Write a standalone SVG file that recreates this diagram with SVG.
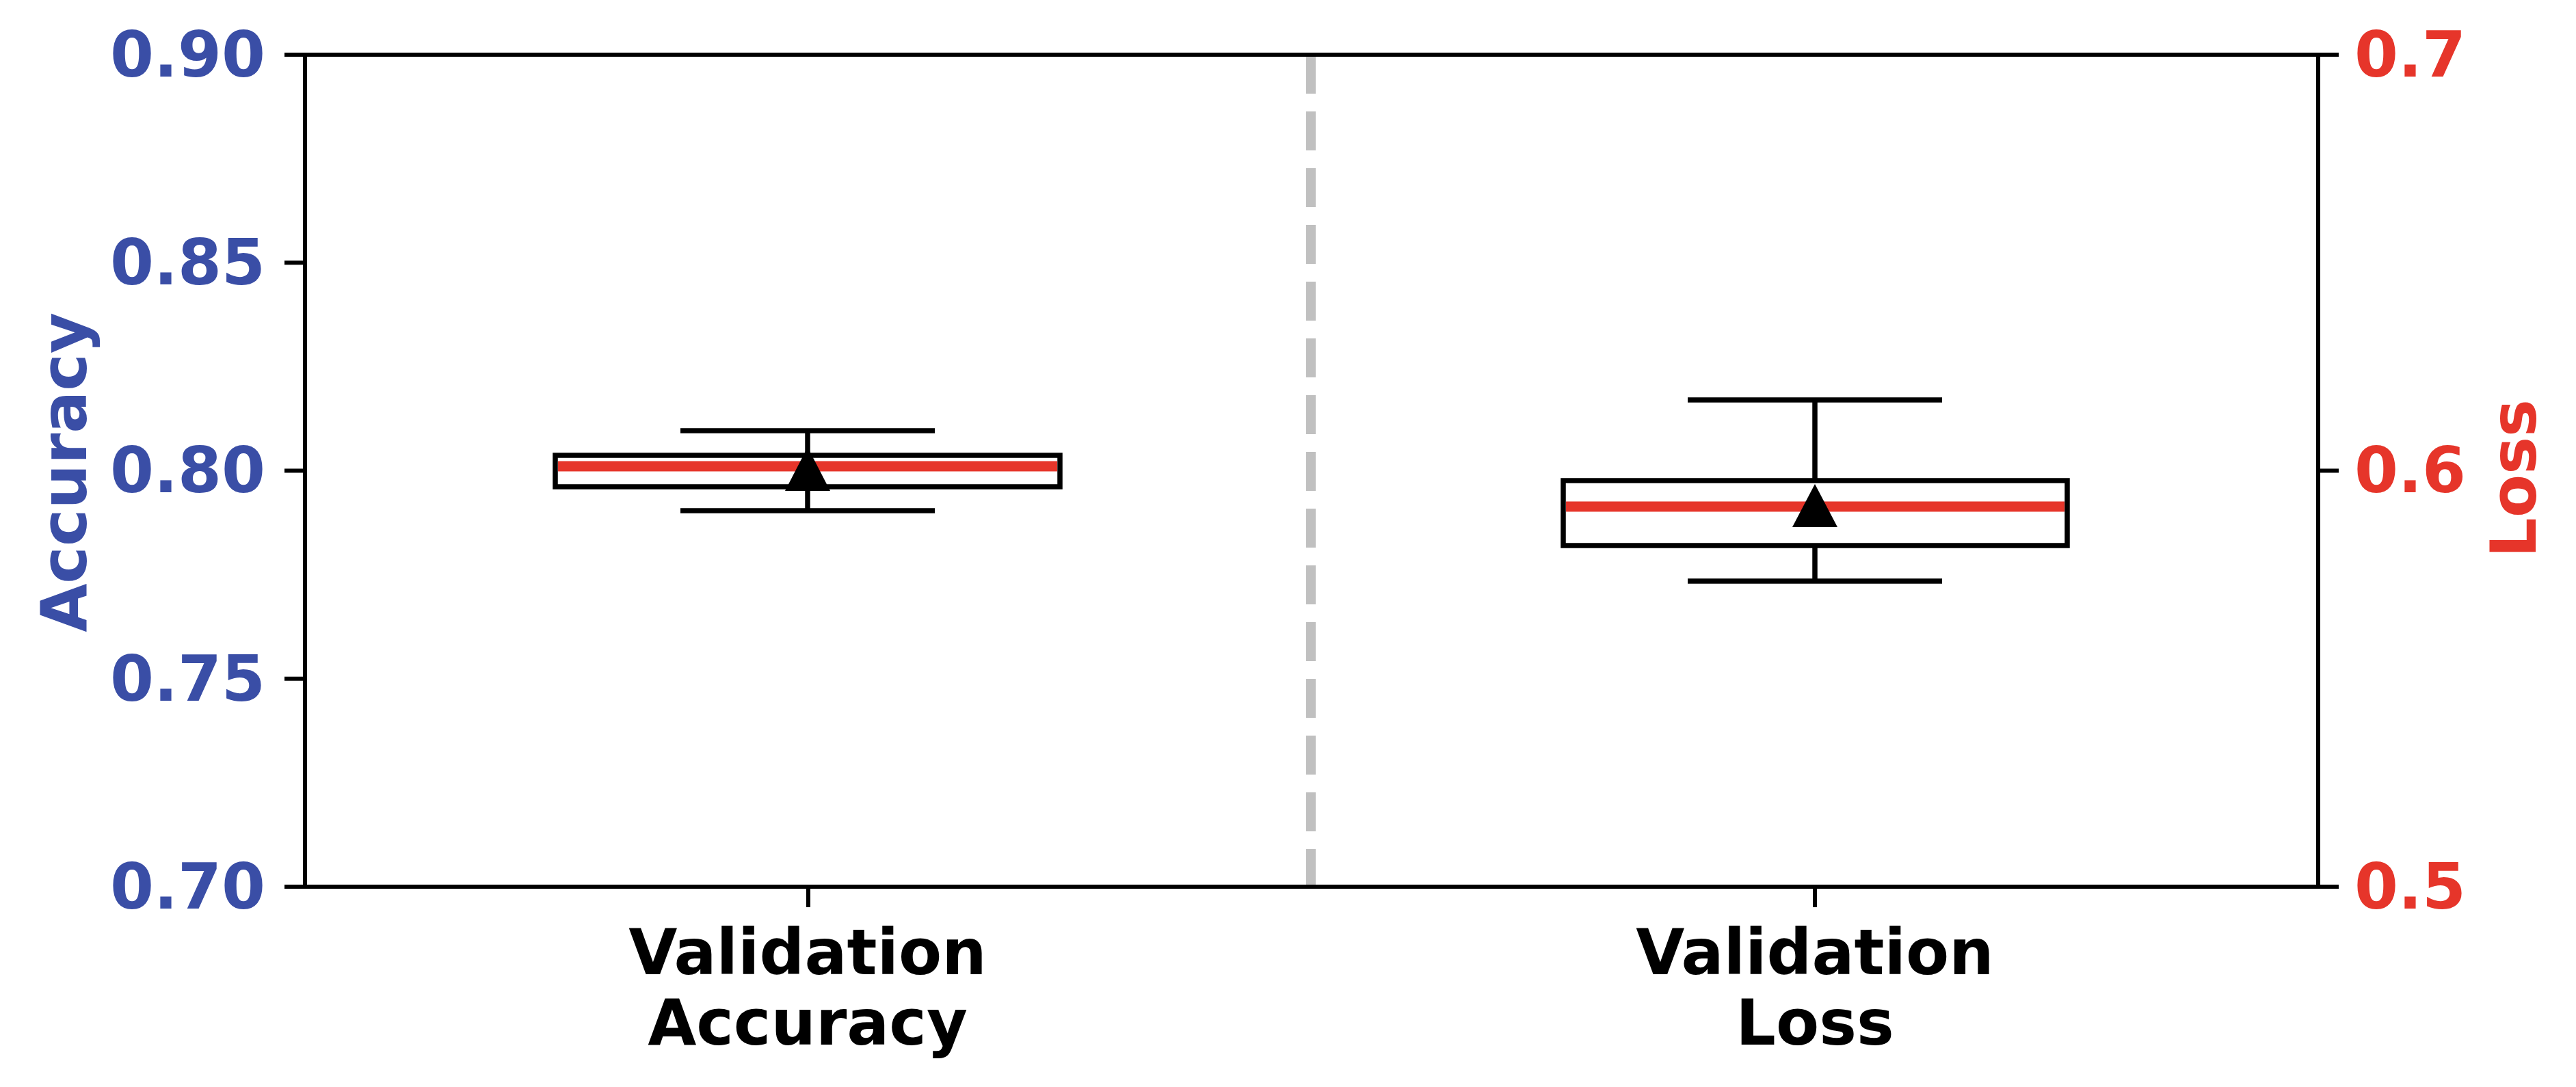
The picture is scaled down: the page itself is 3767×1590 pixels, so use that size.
<svg xmlns="http://www.w3.org/2000/svg" width="3767" height="1590" viewBox="0 0 3767 1590">
<style>
text{font-family:"DejaVu Sans","Liberation Sans",sans-serif;font-weight:bold;font-size:92px}
.blue{fill:#3a4ea6}
.red{fill:#e6352a}
.blk{fill:#000}
.spine{stroke:#000;stroke-width:6;fill:none;stroke-linecap:square}
.tick{stroke:#000;stroke-width:6;fill:none}
.box{stroke:#000;stroke-width:7.5;fill:none}
.med{stroke:#e6352a;stroke-width:15;fill:none}
.sep{stroke:#c0c0c0;stroke-width:14;stroke-dasharray:57 26;fill:none}
</style>
<rect width="3767" height="1590" fill="#fff"/>
<g id="separator">
<line class="sep" x1="1917" y1="80" x2="1917" y2="1297"/>
</g>
<g id="axes">
<rect class="spine" x="446" y="80" width="2944" height="1217"/>
<line class="tick" x1="416" y1="80" x2="446" y2="80"/>
<line class="tick" x1="416" y1="384.25" x2="446" y2="384.25"/>
<line class="tick" x1="416" y1="688.5" x2="446" y2="688.5"/>
<line class="tick" x1="416" y1="992.75" x2="446" y2="992.75"/>
<line class="tick" x1="416" y1="1297" x2="446" y2="1297"/>
<line class="tick" x1="3390" y1="80" x2="3420" y2="80"/>
<line class="tick" x1="3390" y1="688.5" x2="3420" y2="688.5"/>
<line class="tick" x1="3390" y1="1297" x2="3420" y2="1297"/>
<line class="tick" x1="1182" y1="1297" x2="1182" y2="1327"/>
<line class="tick" x1="2654" y1="1297" x2="2654" y2="1327"/>
</g>
<g id="left-ticklabels" text-anchor="end" class="blue">
<text x="388" y="112">0.90</text>
<text x="388" y="416">0.85</text>
<text x="388" y="720">0.80</text>
<text x="388" y="1025">0.75</text>
<text x="388" y="1329">0.70</text>
</g>
<g id="right-ticklabels" class="red">
<text x="3443" y="112">0.7</text>
<text x="3443" y="720">0.6</text>
<text x="3443" y="1329">0.5</text>
</g>
<g id="ylabel-accuracy">
<text class="blue" text-anchor="middle" font-size="93" transform="translate(126,691) rotate(-90)">Accuracy</text>
</g>
<g id="ylabel-loss">
<text class="red" text-anchor="middle" transform="translate(3708,700) rotate(-90)">Loss</text>
</g>
<g id="xlabel-accuracy" text-anchor="middle" class="blk" font-size="93">
<text x="1181" y="1425" font-size="93">Validation</text>
<text x="1181" y="1528" font-size="93">Accuracy</text>
</g>
<g id="xlabel-loss" text-anchor="middle" class="blk">
<text x="2654" y="1425" font-size="93">Validation</text>
<text x="2654" y="1528" font-size="93">Loss</text>
</g>
<g id="box-accuracy">
<line class="box" x1="1181" y1="630" x2="1181" y2="666"/>
<line class="box" x1="1181" y1="712" x2="1181" y2="747"/>
<line class="box" x1="995" y1="630" x2="1367" y2="630"/>
<line class="box" x1="995" y1="747" x2="1367" y2="747"/>
<rect class="box" x="812" y="666" width="738" height="46"/>
<line class="med" x1="816" y1="682" x2="1546" y2="682"/>
<polygon points="1181,654 1148,718 1214,718" fill="#000"/>
</g>
<g id="box-loss">
<line class="box" x1="2654" y1="585" x2="2654" y2="703"/>
<line class="box" x1="2654" y1="798" x2="2654" y2="850"/>
<line class="box" x1="2468" y1="585" x2="2840" y2="585"/>
<line class="box" x1="2468" y1="850" x2="2840" y2="850"/>
<rect class="box" x="2286" y="703" width="737" height="95"/>
<line class="med" x1="2290" y1="741" x2="3019" y2="741"/>
<polygon points="2654,708 2621,771 2687,771" fill="#000"/>
</g>
</svg>
